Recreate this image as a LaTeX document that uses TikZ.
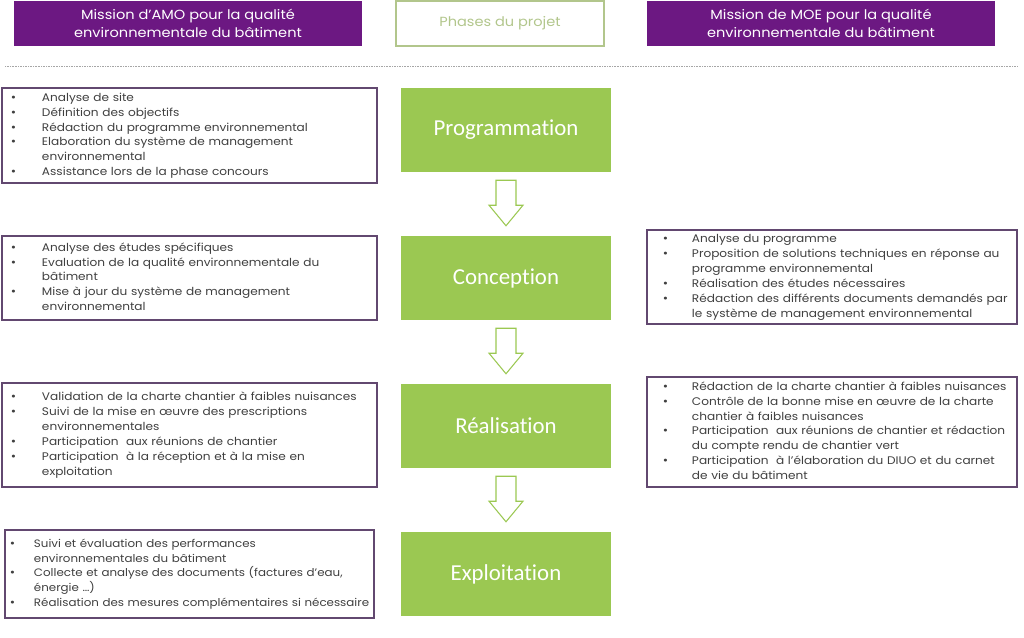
\documentclass[tikz,border=0pt]{standalone}
\usepackage{fontspec}
\setmainfont[FakeStretch=1.1]{Poppins}
\newfontfamily\phasefont[Ligatures=NoCommon]{Carlito}
\usetikzlibrary{calc}

\definecolor{amoviolet}{RGB}{108,24,130}
\definecolor{vertphase}{RGB}{155,200,82}
\definecolor{bordviolet}{RGB}{98,72,112}
\definecolor{gristexte}{RGB}{64,64,64}
\definecolor{vertpale}{RGB}{178,198,140}

\newcommand{\pc}{\fontsize{10}{7}\selectfont\textbullet}
\newcommand{\listepuces}[2]{\noindent\begin{tabular}{@{}p{#1}@{}l@{}}#2\end{tabular}}

\tikzset{
  entete/.style={fill=amoviolet, text=white, minimum width=10.44cm, minimum height=1.35cm,
    align=center, font=\fontsize{11.3}{15}\selectfont},
  phase/.style={fill=vertphase, text=white, minimum width=6.3cm, minimum height=2.52cm,
    font=\phasefont\fontsize{19.5}{22}\selectfont},
  cadre/.style={draw=bordviolet, line width=0.9pt, fill=white, text=gristexte, align=left,
    inner ysep=0pt, font=\fontsize{9.4}{12.7}\selectfont},
  fleche/.style={draw=vertphase, line width=0.9pt, fill=white},
}

\begin{document}
\begin{tikzpicture}[x=0.03cm, y=-0.03cm]
    \useasboundingbox (0,0) rectangle (1024,638);

    % En-tetes
    \node[entete] (titreamo) at (188,23.5) {Mission d’AMO pour la qualité\\environnementale du bâtiment};
    \node[draw=vertpale, line width=0.9pt, text=vertpale, minimum width=6.24cm, minimum height=1.35cm,
      font=\fontsize{11.3}{15}\selectfont] (titrephases) at (500,23.5) {Phases du projet};
    \node[entete] (titremoe) at (821,23.5) {Mission de MOE pour la qualité\\environnementale du bâtiment};
    \draw[gray!70, densely dotted] (5,66) -- (1018,66);

    % Phases
    \node[phase] (prog) at (506,130) {Programmation};
    \node[phase] (conc) at (506,278) {Conception};
    \node[phase] (real) at (506,426) {Réalisation};
    \node[phase] (expl) at (506,574) {Exploitation};

    % Fleches creuses
    \foreach \a/\b in {prog/conc, conc/real, real/expl}
      \draw[fleche] ($(\a.south)+(-10,8)$) -- ++(20,0) -- ++(0,25) -- ++(7,0)
        -- ($(\b.north)+(0,-10)$) -- ($(\a.south)+(-17,33)$) -- ++(7,0) -- cycle;

    % Mission AMO
    \node[cadre, inner xsep=0.27cm, text width=10.71cm, minimum height=2.85cm] (amo1) at (189.5,135.5)
      {\listepuces{0.93cm}{%
        \pc & Analyse de site\\
        \pc & Définition des objectifs\\
        \pc & Rédaction du programme environnemental\\
        \pc & Elaboration du système de management\\
            & environnemental\\
        \pc & Assistance lors de la phase concours}};
    \node[cadre, inner xsep=0.27cm, text width=10.71cm, minimum height=2.52cm] (amo2) at (189.5,278)
      {\listepuces{0.93cm}{%
        \pc & Analyse des études spécifiques\\
        \pc & Evaluation de la qualité environnementale du\\
            & bâtiment\\
        \pc & Mise à jour du système de management\\
            & environnemental}};
    \node[cadre, inner xsep=0.27cm, text width=10.71cm, minimum height=3.12cm] (amo3) at (189.5,435)
      {\listepuces{0.93cm}{%
        \pc & Validation de la charte chantier à faibles nuisances\\
        \pc & Suivi de la mise en œuvre des prescriptions\\
            & environnementales\\
        \pc & Participation\ \ aux réunions de chantier\\
        \pc & Participation\ \ à la réception et à la mise en\\
            & exploitation}};
    \node[cadre, inner xsep=0.15cm, text width=10.77cm, minimum height=2.64cm,
      font=\fontsize{9.2}{12.7}\selectfont] (amo4) at (189.5,574)
      {\listepuces{0.72cm}{%
        \pc & Suivi et évaluation des performances\\
            & environnementales du bâtiment\\
        \pc & Collecte et analyse des documents (factures d’eau,\\
            & énergie …)\\
        \pc & Réalisation des mesures complémentaires si nécessaire}};

    % Mission MOE
    \node[cadre, inner xsep=0.48cm, text width=10.14cm, minimum height=2.82cm] (moe2) at (832,277)
      {\listepuces{0.87cm}{%
        \pc & Analyse du programme\\
        \pc & Proposition de solutions techniques en réponse au\\
            & programme environnemental\\
        \pc & Réalisation des études nécessaires\\
        \pc & Rédaction des différents documents demandés par\\
            & le système de management environnemental}};
    \node[cadre, inner xsep=0.48cm, text width=10.14cm, minimum height=3.3cm] (moe3) at (832,432)
      {\listepuces{0.87cm}{%
        \pc & Rédaction de la charte chantier à faibles nuisances\\
        \pc & Contrôle de la bonne mise en œuvre de la charte\\
            & chantier à faibles nuisances\\
        \pc & Participation\ \ aux réunions de chantier et rédaction\\
            & du compte rendu de chantier vert\\
        \pc & Participation\ \ à l’élaboration du DIUO et du carnet\\
            & de vie du bâtiment}};
\end{tikzpicture}
\end{document}
